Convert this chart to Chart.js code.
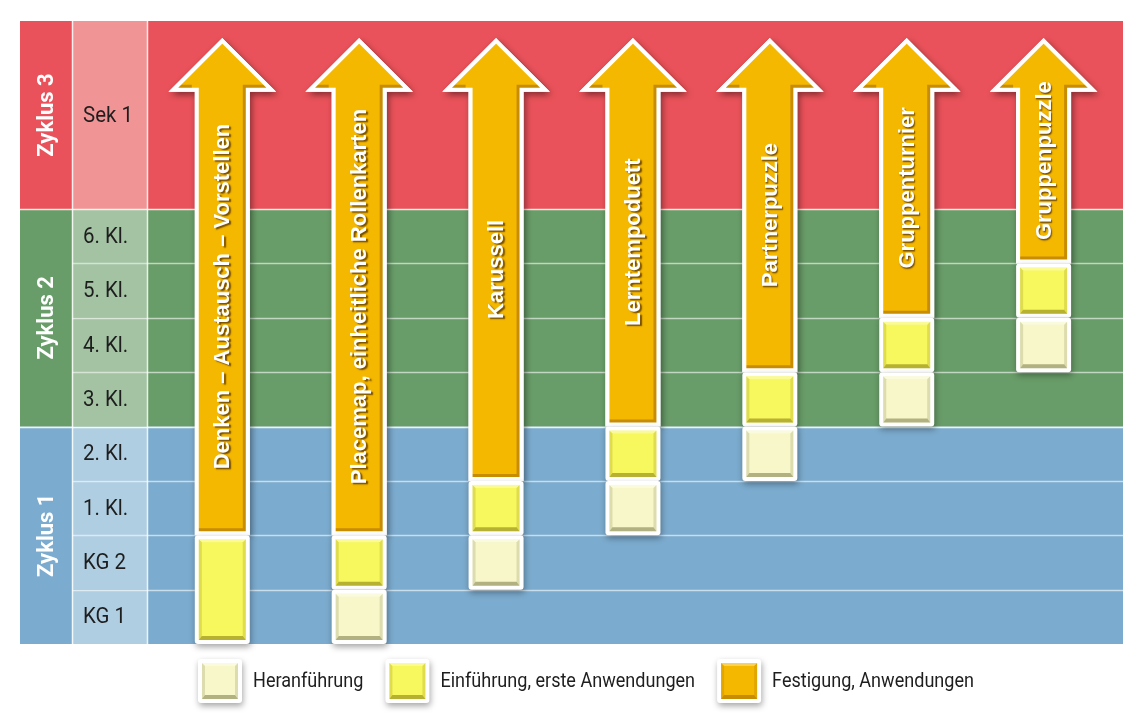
<!DOCTYPE html>
<html><head><meta charset="utf-8">
<script src="https://cdn.jsdelivr.net/npm/chart.js@4.4.1/dist/chart.umd.min.js"></script>
<style>html,body{margin:0;padding:0;background:#fff;} canvas{display:block;}</style>
</head><body>
<canvas id="c" width="1148" height="720"></canvas>
<script>
// ---------- DATA ----------
const methods = ['Denken – Austausch – Vorstellen', 'Placemap, einheitliche Rollenkarten', 'Karussell', 'Lerntempoduett', 'Partnerpuzzle', 'Gruppenturnier', 'Gruppenpuzzle'];
// level scale: KG 1 = 0..1, KG 2 = 1..2, 1. Kl. = 2..3 ... 6. Kl. = 7..8, Sek 1 = 8..top
const heranStart = [null, 0, 1, 2, 3, 4, 5];
const heranEnd   = [null, 1, 2, 3, 4, 5, 6];
const einfStart  = [0, 1, 2, 3, 4, 5, 6];
const einfEnd    = [2, 2, 3, 4, 5, 6, 7];
const festStart  = [2, 2, 3, 4, 5, 6, 7];
const festEnd    = [11.15, 11.15, 11.15, 11.15, 11.15, 11.15, 11.15];
const gradeLabels = ['KG 1', 'KG 2', '1. Kl.', '2. Kl.', '3. Kl.', '4. Kl.', '5. Kl.', '6. Kl.', 'Sek 1'];
const gradeStart  = [0, 1, 2, 3, 4, 5, 6, 7, 8];
const gradeEnd    = [1, 2, 3, 4, 5, 6, 7, 8, 11.46];
const cycleLabels = ['Zyklus 1', 'Zyklus 2', 'Zyklus 3'];
const cycleStart  = [0, 4, 8];
const cycleEnd    = [4, 8, 11.46];
const legendLabels = ['Heranführung', 'Einführung, erste Anwendungen', 'Festigung, Anwendungen'];

// ---------- STYLE ----------
const cycleColors = ['#7BABCE', '#689C68', '#E9525A'];
const cycleLight  = ['#AFCEE2', '#A3C3A3', '#F09496'];
const phase = [
  {fill: '#F7F7CA', dark: 'rgba(120,120,70,0.55)', mid: 'rgba(140,140,90,0.25)'},
  {fill: '#F7F75E', dark: 'rgba(140,130,20,0.6)', mid: 'rgba(150,140,30,0.25)'},
  {fill: '#F5B800', dark: 'rgba(170,110,0,0.6)', mid: 'rgba(170,110,0,0.25)'}
];
const COL_Z = 20, COL_G = 72;

function roundRect(ctx, x, y, w, h, r) {
  ctx.beginPath();
  ctx.moveTo(x + r, y);
  ctx.arcTo(x + w, y, x + w, y + h, r);
  ctx.arcTo(x + w, y + h, x, y + h, r);
  ctx.arcTo(x, y + h, x, y, r);
  ctx.arcTo(x, y, x + w, y, r);
  ctx.closePath();
}

function drawBox(ctx, x, y, w, h, p) {
  ctx.save();
  ctx.shadowColor = 'rgba(0,0,0,0.35)';
  ctx.shadowBlur = 6; ctx.shadowOffsetX = 1; ctx.shadowOffsetY = 3;
  roundRect(ctx, x, y, w, h, 3);
  ctx.fillStyle = '#FFFFFF';
  ctx.fill();
  ctx.restore();
  const ix = x + 4, iy = y + 4, iw = w - 8, ih = h - 8;
  ctx.save();
  ctx.fillStyle = p.fill;
  ctx.fillRect(ix, iy, iw, ih);
  const b = 4, s = 3;
  ctx.fillStyle = p.dark;
  ctx.beginPath();
  ctx.moveTo(ix, iy + ih); ctx.lineTo(ix + iw, iy + ih);
  ctx.lineTo(ix + iw - s, iy + ih - b); ctx.lineTo(ix + s, iy + ih - b); ctx.closePath(); ctx.fill();
  ctx.fillStyle = p.mid;
  ctx.beginPath();
  ctx.moveTo(ix, iy); ctx.lineTo(ix + s, iy + s); ctx.lineTo(ix + s, iy + ih - b); ctx.lineTo(ix, iy + ih); ctx.closePath(); ctx.fill();
  ctx.beginPath();
  ctx.moveTo(ix + iw, iy); ctx.lineTo(ix + iw - s, iy + s); ctx.lineTo(ix + iw - s, iy + ih - b); ctx.lineTo(ix + iw, iy + ih); ctx.closePath(); ctx.fill();
  ctx.fillStyle = 'rgba(255,255,255,0.35)';
  ctx.beginPath();
  ctx.moveTo(ix, iy); ctx.lineTo(ix + iw, iy); ctx.lineTo(ix + iw - s, iy + s); ctx.lineTo(ix + s, iy + s); ctx.closePath(); ctx.fill();
  ctx.restore();
}

function arrowPath(ctx, cx, tipY, baseY, dx, dy, fresh) {
  const shaftHW = 25.5, headHW = 49, headH = 49;
  if (fresh) ctx.beginPath();
  ctx.moveTo(cx + dx, tipY + dy);
  ctx.lineTo(cx + headHW + dx, tipY + headH + dy);
  ctx.lineTo(cx + shaftHW + dx, tipY + headH + dy);
  ctx.lineTo(cx + shaftHW + dx, baseY + dy);
  ctx.lineTo(cx - shaftHW + dx, baseY + dy);
  ctx.lineTo(cx - shaftHW + dx, tipY + headH + dy);
  ctx.lineTo(cx - headHW + dx, tipY + headH + dy);
  ctx.closePath();
}

function drawArrow(ctx, cx, tipPx, basePx, p, label) {
  const tipY = tipPx + 3, baseY = basePx - 2;
  ctx.save();
  ctx.lineJoin = 'miter'; ctx.miterLimit = 10; ctx.lineWidth = 4;
  ctx.shadowColor = 'rgba(0,0,0,0.35)';
  ctx.shadowBlur = 6; ctx.shadowOffsetX = 2; ctx.shadowOffsetY = 3;
  arrowPath(ctx, cx, tipY, baseY, 0, 0, true);
  ctx.fillStyle = '#FFFFFF'; ctx.strokeStyle = '#FFFFFF';
  ctx.fill(); ctx.stroke();
  ctx.restore();

  ctx.save();
  arrowPath(ctx, cx, tipY, baseY, 0, 0, true);
  ctx.fillStyle = p.fill; ctx.fill();
  ctx.clip();
  ctx.beginPath();
  ctx.rect(0, 0, 2000, 2000);
  arrowPath(ctx, cx, tipY, baseY, -5, -5, false);
  ctx.fillStyle = p.dark; ctx.fill('evenodd');
  ctx.restore();

  ctx.save();
  ctx.lineJoin = 'miter'; ctx.miterLimit = 10; ctx.lineWidth = 4;
  arrowPath(ctx, cx, tipY, baseY, 0, 0, true);
  ctx.strokeStyle = '#FFFFFF'; ctx.stroke();
  ctx.restore();

  ctx.save();
  ctx.translate(cx + 1, (tipPx + basePx) / 2 + 10);
  ctx.rotate(-Math.PI / 2);
  ctx.font = 'bold 22px "Liberation Sans", Arial, sans-serif';
  ctx.textAlign = 'center'; ctx.textBaseline = 'middle';
  ctx.shadowColor = 'rgba(90,55,0,0.85)';
  ctx.shadowBlur = 1.5; ctx.shadowOffsetX = 1.5; ctx.shadowOffsetY = 1.5;
  ctx.fillStyle = '#FFFFFF';
  ctx.fillText(label, 0, 0);
  ctx.restore();
}

const diagram = {
  id: 'diagram',
  beforeDatasetsDraw(chart) {
    const {ctx, chartArea: a, scales: {y}} = chart;
    ctx.save();
    cycleLabels.forEach((lab, i) => {
      const top = y.getPixelForValue(cycleEnd[i]), bot = y.getPixelForValue(cycleStart[i]);
      ctx.fillStyle = cycleColors[i];
      ctx.fillRect(COL_Z, top, a.right - COL_Z, bot - top);
    });
    gradeLabels.forEach((lab, i) => {
      const top = y.getPixelForValue(gradeEnd[i]), bot = y.getPixelForValue(gradeStart[i]);
      let ci = 0;
      cycleStart.forEach((s, k) => { if (gradeStart[i] >= s) ci = k; });
      ctx.fillStyle = cycleLight[ci];
      ctx.fillRect(COL_G, top, a.left - COL_G, bot - top);
    });
    ctx.strokeStyle = 'rgba(255,255,255,0.6)';
    ctx.lineWidth = 1.5;
    gradeStart.forEach((s) => {
      if (s === 0 || cycleStart.includes(s)) return;
      const py = Math.round(y.getPixelForValue(s)) + 0.5;
      ctx.beginPath(); ctx.moveTo(COL_G, py); ctx.lineTo(a.right, py); ctx.stroke();
    });
    ctx.strokeStyle = 'rgba(255,255,255,0.85)';
    cycleStart.forEach((s) => {
      if (s === 0) return;
      const py = Math.round(y.getPixelForValue(s)) + 0.5;
      ctx.beginPath(); ctx.moveTo(COL_Z, py); ctx.lineTo(a.right, py); ctx.stroke();
    });
    [COL_G, a.left].forEach((vx) => {
      ctx.beginPath(); ctx.moveTo(vx + 0.5, a.top); ctx.lineTo(vx + 0.5, a.bottom); ctx.stroke();
    });
    ctx.fillStyle = '#1E1E1E';
    ctx.textBaseline = 'middle'; ctx.textAlign = 'left';
    gradeLabels.forEach((lab, i) => {
      const cy = (y.getPixelForValue(gradeEnd[i]) + y.getPixelForValue(gradeStart[i])) / 2 + 1;
      ctx.save();
      ctx.translate(83, cy);
      ctx.scale(0.93, 1);
      ctx.font = '400 22px Roboto, sans-serif';
      ctx.fillText(lab, 0, 0);
      ctx.restore();
    });
    cycleLabels.forEach((lab, i) => {
      const cy = (y.getPixelForValue(cycleEnd[i]) + y.getPixelForValue(cycleStart[i])) / 2;
      ctx.save();
      ctx.translate((COL_Z + COL_G) / 2 + 1, cy);
      ctx.rotate(-Math.PI / 2);
      ctx.font = 'bold 22px Roboto, sans-serif';
      ctx.fillStyle = '#FFFFFF';
      ctx.textAlign = 'center'; ctx.textBaseline = 'middle';
      ctx.fillText(lab, 0, 0);
      ctx.restore();
    });
    ctx.restore();
  },
  afterDatasetsDraw(chart) {
    const {ctx} = chart;
    const festMeta = chart.getDatasetMeta(2);
    festMeta.data.forEach((el, i) => {
      drawArrow(ctx, el.x, el.y, el.base, phase[2], methods[i]);
    });
    [1, 0].forEach((d) => {
      const meta = chart.getDatasetMeta(d);
      meta.data.forEach((el, i) => {
        if (chart.data.datasets[d].data[i].y == null) return;
        const w = el.width;
        drawBox(ctx, el.x - w / 2, el.y, w, el.base - el.y, phase[d]);
      });
    });
    let lx = 198;
    const ly = 659;
    legendLabels.forEach((lab, i) => {
      drawBox(ctx, lx, ly, 44, 44, phase[i]);
      ctx.save();
      ctx.font = '400 21px Roboto, sans-serif';
      const sx = 0.86;
      const tw = ctx.measureText(lab).width * sx;
      ctx.translate(lx + 55, ly + 23);
      ctx.scale(sx, 1);
      ctx.fillStyle = '#1E1E1E';
      ctx.textBaseline = 'middle'; ctx.textAlign = 'left';
      ctx.fillText(lab, 0, 0);
      ctx.restore();
      lx += 55 + tw + 22;
    });
  }
};

const mk = (s, e) => methods.map((m, i) => ({x: i, y: s[i] == null ? null : [s[i], e[i]]}));

new Chart(document.getElementById('c').getContext('2d'), {
  type: 'bar',
  data: {
    datasets: [
      {label: legendLabels[0], data: mk(heranStart, heranEnd), backgroundColor: 'rgba(0,0,0,0)', borderWidth: 0},
      {label: legendLabels[1], data: mk(einfStart, einfEnd), backgroundColor: 'rgba(0,0,0,0)', borderWidth: 0},
      {label: legendLabels[2], data: mk(festStart, festEnd), backgroundColor: 'rgba(0,0,0,0)', borderWidth: 0}
    ]
  },
  options: {
    responsive: false,
    animation: false,
    devicePixelRatio: 1,
    events: [],
    layout: {padding: {left: 147, top: 21, right: 25, bottom: 76}},
    datasets: {bar: {grouped: false, barThickness: 55}},
    scales: {
      x: {type: 'linear', min: -0.55, max: 6.58, offset: false, display: false},
      y: {type: 'linear', min: 0, max: 11.46, display: false}
    },
    plugins: {legend: {display: false}, tooltip: {enabled: false}}
  },
  plugins: [diagram]
});
</script>
</body></html>
